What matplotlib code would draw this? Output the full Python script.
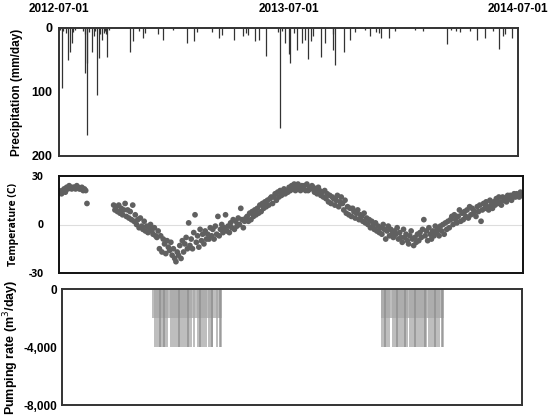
import numpy as np
import pandas as pd
import matplotlib
matplotlib.use("Agg")
import matplotlib.pyplot as plt
from matplotlib.ticker import FuncFormatter

# ================= DATA =================
start = pd.Timestamp("2012-07-01")
end = pd.Timestamp("2014-07-01")
tick_dates = ["2012-07-01", "2013-07-01", "2014-07-01"]

# precipitation: day offset from 2012-07-01, mm/day
precip_day = [1, 4, 6, 11, 15, 17, 20, 23, 25, 38, 41, 42, 44, 45, 48, 52, 55, 57, 60, 64,
              66, 68, 71, 73, 75, 77, 80, 113, 118, 128, 133, 137, 157, 166, 182, 204, 215,
              220, 243, 254, 259, 279, 293, 298, 301, 312, 318, 329,
              349, 351, 355, 359, 365, 368, 373, 378, 386, 392, 396, 400, 404, 417, 423,
              435, 436, 439, 454, 463, 471, 487, 495, 504, 509, 512, 525, 534, 566, 579,
              617, 624, 632, 638, 653, 664, 677, 691, 700, 706, 709, 720]
precip_mm = [3, 93, 5, 8, 50, 37, 24, 6, 3, 4, 10, 71, 55, 167, 6, 38, 12, 5, 104, 47,
             9, 19, 8, 4, 10, 45, 3, 37, 20, 4, 16, 8, 9, 18, 3, 23, 21,
             6, 7, 16, 11, 18, 13, 8, 11, 20, 19, 44,
             6, 157, 5, 24, 40, 54, 8, 34, 24, 18, 49, 21, 12, 45, 24,
             10, 34, 58, 38, 18, 6, 3, 12, 6, 8, 16, 16, 4, 3, 4,
             25, 3, 5, 6, 4, 19, 16, 5, 33, 13, 10, 15]

# temperature, every 2 days
temp1_start = "2012-07-01"
temp1 = [21, 20, 19, 21, 22, 20, 23, 22, 24, 23, 22, 23, 23, 22, 24, 23, 22, 22, 23, 21,
         22, 21, 13]
temp2_start = "2012-09-25"
temp2 = [12, 9, 11, 8, 12, 7, 10, 6, 9, 13, 5, 9, 4, 8, 3,
         12, 2, 6, 0, 3, -2, 4, -1, -3, 2, -4, -1, -5, -2, 0,
         -4, -6, -2, -7, -8, -4, -15, -7, -17, -9, -12, -18, -10, -14, -16,
         -11, -19, -15, -21, -23, -17, -19, -13, -21, -10, -17, -12, -8, -15, 1,
         -13, -9, -15, -5, 6, -11, -7, -14, -3, -10, -6, -12, -4, -9, -6,
         -9, -2, -7, -3, -9, -1, -6, 5, -7, -3, 0, -5, -2, 6, -4,
         -1, -5, 1, -2, 3, -3, 2, -1, 4, 0, 10, 3, -2, 2, 4,
         5, 2, 7, 3, 8, 5, 9, 6, 10, 7, 12, 8, 13, 10, 14,
         11, 15, 12, 16, 17, 13, 17, 19, 15, 20, 17, 21, 18, 19, 22,
         19, 21, 20, 23, 21, 24, 22, 25, 21, 23, 25, 22, 21, 24, 23,
         24, 21, 25, 21, 23, 22, 24, 23, 20, 22, 19, 23, 21, 18, 20,
         17, 21, 16, 19, 14, 18, 13, 17, 16, 12, 15, 18, 11, 14, 17,
         13, 9, 15, 7, 11, 6, 10, 5, 10, 8, 4, 7, 9, 3, 6,
         5, 2, 7, 1, 4, 0, 3, -2, 2, -1, -3, 1, -4, -1, -5,
         -2, -6, 0, -3, -9, -4, -1, -7, -3, -6, -8, -4, -6, -2, -9,
         -5, -8, -11, -3, -8, -6, -10, -12, -7, -4, -9, -13, -8, -11, -6,
         -10, -5, -8, -3, 3, -7, -4, -10, -2, -6, -9, -4, -7, -1, -5,
         -3, -7, -1, -4, 0, -6, 1, -3, 2, -2, 3, 5, 0, 6, 3,
         1, 5, 9, 2, 7, 3, 8, 5, 9, 4, 11, 6, 10, 7, 8,
         5, 11, 8, 12, 2, 9, 13, 10, 14, 11, 9, 15, 12, 10, 14,
         12, 16, 13, 17, 14, 12, 17, 15, 16, 14, 18, 16, 18, 15, 17,
         19, 17, 19, 18, 17, 20, 18, 19]

# pumping periods: start day, end day (offset from 2012-07-01), rate m3/day
pump_from = [143, 146, 171, 208, 214, 232, 245, 251,
             506, 506, 524, 551, 581, 603]
pump_to = [254, 168, 206, 211, 230, 240, 248, 254,
           607, 520, 549, 579, 600, 606]
pump_rate = [-2000, -4000, -4000, -4000, -4000, -4000, -4000, -4000,
             -2000, -4000, -4000, -4000, -4000, -4000]
# days when an extra well ran (darker streaks)
pump_extra_day = [155, 162, 185, 200, 219, 238, 251, 513, 531, 544, 560, 576, 592, 603]

# ================= FIGURE =================
W, H = 550, 418
fig = plt.figure(figsize=(W / 100, H / 100), dpi=100)

def box(l, t, r, b):
    return [l / W, 1 - b / H, (r - l) / W, (b - t) / H]

ax1 = fig.add_axes(box(59, 28, 518, 156))
ax2 = fig.add_axes(box(59, 176, 523, 273))
ax3 = fig.add_axes(box(62, 289, 522, 405))

bold = dict(family="Liberation Sans", weight="bold")

for ax in (ax1, ax2, ax3):
    ax.set_xlim(start, end)
    ax.tick_params(length=0)
    for s in ax.spines.values():
        s.set_linewidth(1.4)
        s.set_color("#333333")

# ---- precipitation ----
pdates = start + pd.to_timedelta(precip_day, unit="D")
ax1.vlines(pdates, 0, precip_mm, colors="#333333", lw=0.9)
ax1.set_ylim(200, 0)
ax1.set_yticks([0, 100, 200])
ax1.set_yticklabels(["0", "100", "200"], fontsize=9, **bold)
ax1.xaxis.tick_top()
ax1.set_xticks(pd.to_datetime(tick_dates))
ax1.set_xticklabels(tick_dates, fontsize=8.5, **bold)
ax1.tick_params(axis="x", pad=9)
ax1.tick_params(axis="y", pad=5)
ax1.set_ylabel("Precipitation (mm/day)", fontsize=8.5, labelpad=6, **bold)

# ---- temperature ----
d1 = pd.date_range(temp1_start, periods=len(temp1), freq="2D")
d2 = pd.date_range(temp2_start, periods=len(temp2), freq="2D")
ax2.axhline(0, color="#dddddd", lw=0.8, zorder=0)
ax2.scatter(d1, temp1, s=17, color="#606060", edgecolor="none")
ax2.scatter(d2, temp2, s=17, color="#606060", edgecolor="none")
ax2.set_ylim(-30, 30)
ax2.set_yticks([-30, 0, 30])
ax2.set_yticklabels(["-30", "0", "30"], fontsize=7.5, family="Open Sans", weight="bold")
ax2.tick_params(axis="y", pad=11)
ax2.set_xticks([])
ax2.set_ylabel("Temperature (C)", fontsize=7.5, family="Open Sans", weight="bold", labelpad=7)
for s in ax2.spines.values():
    s.set_color("#111111")

# ---- pumping ----
for a, b, r in zip(pump_from, pump_to, pump_rate):
    ax3.bar(start + pd.Timedelta(days=a), r, width=b - a, align="edge",
            color="#a8a8a8", alpha=0.75, linewidth=0)
ax3.vlines(start + pd.to_timedelta(pump_extra_day, unit="D"), -4000, 0,
           colors="#8c8c8c", lw=1.2, alpha=0.8)
ax3.set_ylim(-8000, 0)
ax3.set_yticks([-8000, -4000, 0])
ax3.yaxis.set_major_formatter(FuncFormatter(lambda v, p: f"{int(v):,}"))
for t in ax3.get_yticklabels():
    t.set_fontsize(8.5)
    t.set_fontfamily("Liberation Sans")
    t.set_fontweight("bold")
ax3.set_xticks([])
ax3.set_ylabel("Pumping rate (m$^3$/day)", fontsize=9, labelpad=2, **bold)

fig.savefig("out.png", dpi=100)
